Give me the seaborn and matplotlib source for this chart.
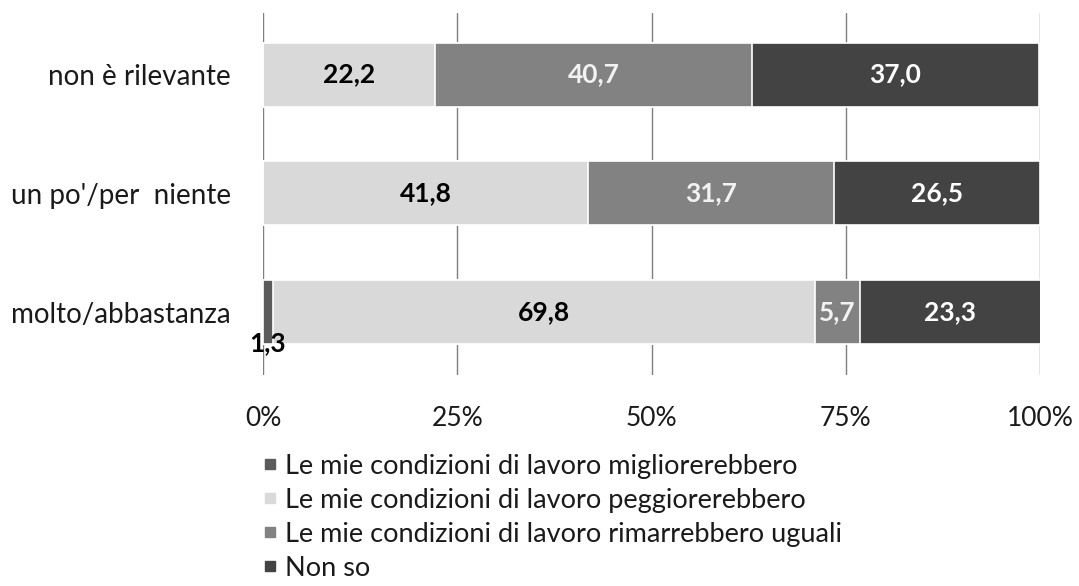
import numpy as np
import pandas as pd
import matplotlib.pyplot as plt
import seaborn as sns
from matplotlib.lines import Line2D
from matplotlib.ticker import PercentFormatter

categories = ["non è rilevante", "un po'/per  niente", "molto/abbastanza"]
series_names = [
    "Le mie condizioni di lavoro migliorerebbero",
    "Le mie condizioni di lavoro peggiorerebbero",
    "Le mie condizioni di lavoro rimarrebbero uguali",
    "Non so",
]
migliorerebbero = [0.0, 0.0, 1.3]
peggiorerebbero = [22.2, 41.8, 69.8]
uguali = [40.7, 31.7, 5.7]
non_so = [37.0, 26.5, 23.3]
x_ticks = [0, 25, 50, 75, 100]

colors = ["#5b5b5b", "#d9d9d9", "#828282", "#434343"]
label_colors = ["black", "black", "#f2f2f2", "white"]

sns.set_style("white")
plt.rcParams["font.family"] = ["Lato", "DejaVu Sans"]
FS = 19

values = np.array([migliorerebbero, peggiorerebbero, uguali, non_so])
cum = np.cumsum(values, axis=0)

fig = plt.figure(figsize=(10.79, 5.86), dpi=100)
ax = fig.add_axes([0.2437, 0.36, 0.7202, 0.618])

# stacked bars: draw cumulative totals from the longest down
for i in range(len(series_names) - 1, -1, -1):
    df = pd.DataFrame({"cat": categories, "val": cum[i]})
    sns.barplot(data=df, x="val", y="cat", orient="h", color=colors[i],
                width=0.54, edgecolor="white", linewidth=1.2, ax=ax,
                saturation=1, zorder=3)

# value labels
for i in range(len(series_names)):
    for j in range(len(categories)):
        v = values[i, j]
        if v <= 0:
            continue
        txt = f"{v:.1f}".replace(".", ",")
        if v < 3:
            ax.text(cum[i, j] - v / 2, j + 0.26, txt, ha="center", va="center",
                    fontsize=FS, fontweight="bold", color="black", zorder=5)
        else:
            ax.text(cum[i, j] - v / 2, j, txt, ha="center", va="center",
                    fontsize=FS, fontweight="bold", color=label_colors[i], zorder=5)

ax.set_xlim(0, 100)
ax.set_ylim(2.53, -0.52)
ax.set_xticks(x_ticks)
ax.xaxis.set_major_formatter(PercentFormatter(decimals=0))
ax.grid(axis="x", color="#7f7f7f", linewidth=1.0, zorder=0)
ax.grid(axis="y", visible=False)
for s in ax.spines.values():
    s.set_visible(False)
ax.tick_params(axis="x", length=0, pad=22, labelsize=FS, labelcolor="#1a1a1a")
ax.tick_params(axis="y", length=0, pad=23, labelsize=20, labelcolor="#1a1a1a")
ax.set_xlabel("")
ax.set_ylabel("")

handles = [Line2D([], [], marker="s", linestyle="", markersize=7,
                  markerfacecolor=c, markeredgecolor=c) for c in colors]
fig.legend(handles, series_names, loc="upper left",
           bbox_to_anchor=(0.230, 0.244), frameon=False, fontsize=19.5,
           handletextpad=0.15, labelspacing=0.33, borderaxespad=0,
           handlelength=0.8, labelcolor="#1a1a1a")

fig.savefig("out.png", dpi=100)
